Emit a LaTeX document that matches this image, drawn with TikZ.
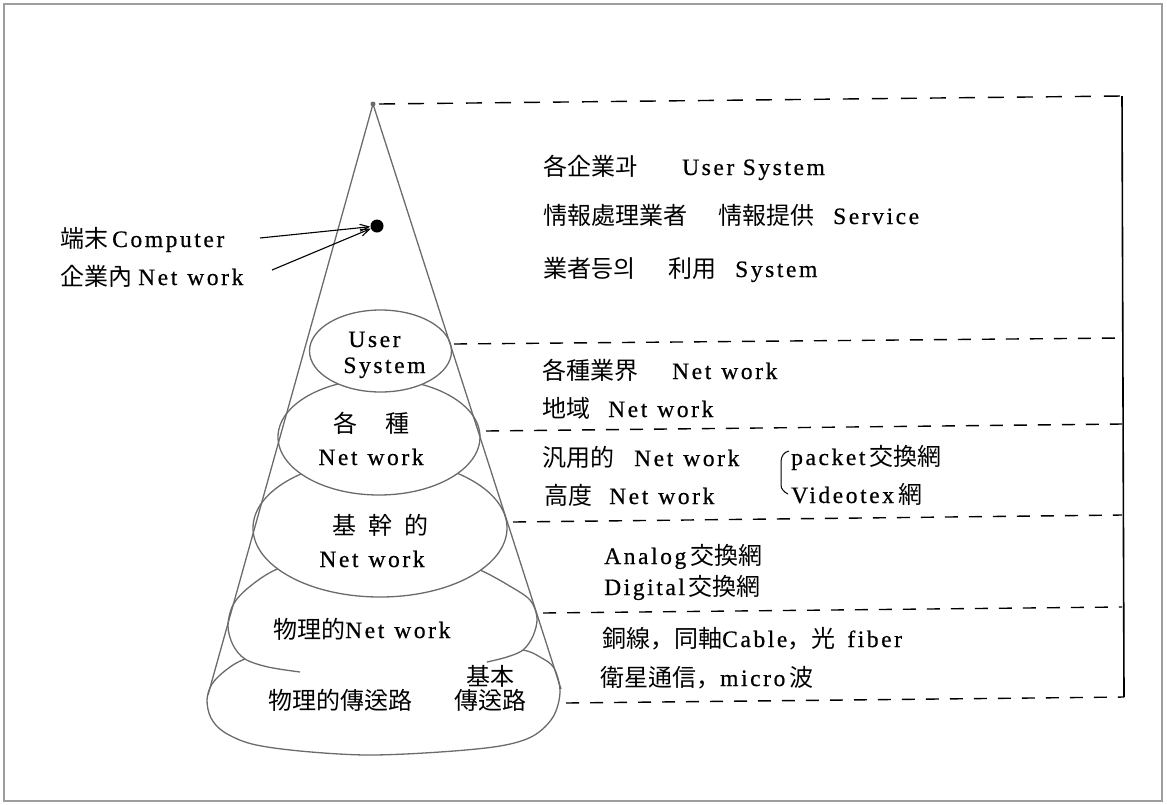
\documentclass[tikz,border=0pt]{standalone}
\usepackage{fontspec}
\setmainfont{Liberation Serif}
\newfontfamily\cjkf{Noto Sans CJK KR}
\newfontfamily\latf{Liberation Serif}[LetterSpace=11,FakeBold=0.6]
\newcommand\cj[1]{{\cjkf\fontsize{24}{28}\selectfont #1}}
\newcommand\la[1]{{\latf\fontsize{23.5}{28}\selectfont #1}}
\newcommand\nw{\la{Net\hspace{10pt}work}}
\usetikzlibrary{arrows.meta}
\definecolor{conegray}{gray}{0.42}
\definecolor{framegray}{gray}{0.62}
\tikzset{
  edge/.style={draw=conegray, line width=1.3pt},
  ell/.style={draw=conegray, line width=1.3pt, fill=white},
  level/.style={draw=black, line width=1.4pt, dash pattern=on 13pt off 11pt},
  toplevel/.style={draw=black, line width=1.4pt, dash pattern=on 16pt off 13pt},
  vline/.style={draw=black, line width=1.6pt},
  txt/.style={inner sep=0pt, anchor=base west},
  ctxt/.style={inner sep=0pt, anchor=base},
  pointer/.style={-{Straight Barb[length=9pt,width=7pt]}, line width=1.1pt},
  apexdot/.style={circle, fill=conegray, inner sep=0pt, minimum size=5pt},
  blob/.style={circle, fill=black, inner sep=0pt, minimum size=13pt},
  framebox/.style={draw=framegray, line width=1.5pt}
}
\begin{document}
\begin{tikzpicture}[x=1pt,y=-1pt]
\useasboundingbox (0,0) rectangle (1167,804);
\draw[framebox] (4,4) rectangle (1162,801);

% bottom blob (physical transmission path)
\path[ell] plot[smooth cycle, tension=0.55] coordinates {
  (245,659) (226,670) (212,684) (207,700) (211,718) (224,732) (252,744)
  (300,751) (367,755) (440,752) (500,746) (533,736) (553,717) (560,692)
  (554,668) (540,657) (523,650) (480,645) (383,640) (290,645)};
% physical network ellipse (bottom partly open)
\fill[white] plot[smooth cycle, tension=0.55] coordinates {
  (300,672) (268,667) (245,659) (233,645) (228,626) (233,605) (248,588)
  (275,570) (310,560) (383,555) (450,560) (480,570) (508,585) (530,600)
  (537,618) (533,636) (523,650) (507,657) (487,662) (383,676)};
\draw[edge] plot[smooth, tension=0.55] coordinates {
  (300,672) (268,667) (245,659) (233,645) (228,626) (233,605) (248,588)
  (275,570) (310,560) (383,555) (450,560) (480,570) (508,585) (530,600)
  (537,618) (533,636) (523,650) (507,657) (487,662)};
% upper ellipses
\draw[ell] (380,528) ellipse [x radius=127, y radius=69];
\draw[ell] (379,437) ellipse [x radius=101, y radius=58];
\draw[ell] (380.5,351) ellipse [x radius=71, y radius=41];

% cone
\node[apexdot] (apex) at (373,104) {};
\coordinate (cl) at (208,695);
\coordinate (cr) at (561,689);
\draw[edge] (apex.center) -- (cl);
\draw[edge] (apex.center) -- (cr);

% level lines
\coordinate (tr) at (1122,96);
\coordinate (br) at (1124,697);
\coordinate (d1s) at (379,104);
\coordinate (d2s) at (454,344);  \coordinate (d2e) at (1122,338);
\coordinate (d3s) at (486,431);  \coordinate (d3e) at (1122,424);
\coordinate (d4s) at (513,522);  \coordinate (d4e) at (1122,515);
\coordinate (d5s) at (543,613);  \coordinate (d5e) at (1122,607);
\coordinate (d6s) at (566,703);
\draw[toplevel] (d1s) -- (tr);
\draw[level] (d2s) -- (d2e);
\draw[level] (d3s) -- (d3e);
\draw[level] (d4s) -- (d4e);
\draw[level] (d5s) -- (d5e);
\draw[level] (d6s) -- (br);
\draw[vline] (tr) -- (br);

% terminal computer
\node[blob] (dot) at (377,226) {};
\node[txt] (l1) at (60,247) {\cj{端末}\hspace{4pt}\la{Computer}};
\node[txt] (l2) at (60,285) {\cj{企業內}\hspace{6pt}\nw};
\coordinate (a1) at (260,238);
\coordinate (a2) at (272,270);
\draw[pointer] (a1) -- (dot);
\draw[pointer] (a2) -- (dot);

% labels inside the cone
\node[ctxt] (e1a) at (374.5,347) {\la{User}};
\node[ctxt] (e1b) at (384.5,373) {\la{System}};
\node[ctxt] (e2a) at (371.5,432) {\cj{各}\hspace{28pt}\cj{種}};
\node[ctxt] (e2b) at (371,465) {\nw};
\node[ctxt] (e3a) at (380,534) {\cj{基}\hspace{12pt}\cj{幹}\hspace{12pt}\cj{的}};
\node[ctxt] (e3b) at (372,567) {\nw};
\node[txt] (e4a) at (273,638) {\cj{物理的}\nw};
\node[txt] (e5a) at (268,709) {\cj{物理的傳送路}};
\node[ctxt] (e5b) at (490,685) {\cj{基本}};
\node[ctxt] (e5c) at (490,709) {\cj{傳送路}};

% right-hand texts
\node[txt] (r1a) at (543,175) {\cj{各企業과}};
\node[txt] (r1b) at (682,175) {\la{User System}};
\node[txt] (r2a) at (543,224) {\cj{情報處理業者}};
\node[txt] (r2b) at (718,224) {\cj{情報提供}};
\node[txt] (r2c) at (833,224) {\la{Service}};
\node[txt] (r3a) at (543,277) {\cj{業者등의}};
\node[txt] (r3b) at (668,277) {\cj{利用}};
\node[txt] (r3c) at (735,277) {\la{System}};
\node[txt] (r4a) at (542,379) {\cj{各種業界}};
\node[txt] (r4b) at (672,379) {\nw};
\node[txt] (r5a) at (542,417) {\cj{地域}};
\node[txt] (r5b) at (608,417) {\nw};
\node[txt] (r6a) at (542,466) {\cj{汎用的}};
\node[txt] (r6b) at (634,466) {\nw};
\node[txt] (r7a) at (544,504) {\cj{高度}};
\node[txt] (r7b) at (609,504) {\nw};
\node[txt] (r8) at (791,465) {\la{packet}\hspace{4pt}\cj{交換網}};
\node[txt] (r9) at (791,503) {\la{Videotex}\hspace{4pt}\cj{網}};
\draw[line width=1pt] (789,451) .. controls (784,452) and (781,456) .. (781,462)
  -- (781,485) .. controls (781,489) and (784,492) .. (788,494);
\node[txt] (r10) at (604,564) {\la{Analog}\hspace{4pt}\cj{交換網}};
\node[txt] (r11) at (604,595) {\la{Digital}\hspace{4pt}\cj{交換網}};
\node[txt] (r12) at (602,647) {\cj{銅線，同軸}\la{Cable}\cj{，光}\hspace{12pt}\la{fiber}};
\node[txt] (r13) at (600,686) {\cj{衛星通信，}\la{micro}\hspace{4pt}\cj{波}};
\end{tikzpicture}
\end{document}
